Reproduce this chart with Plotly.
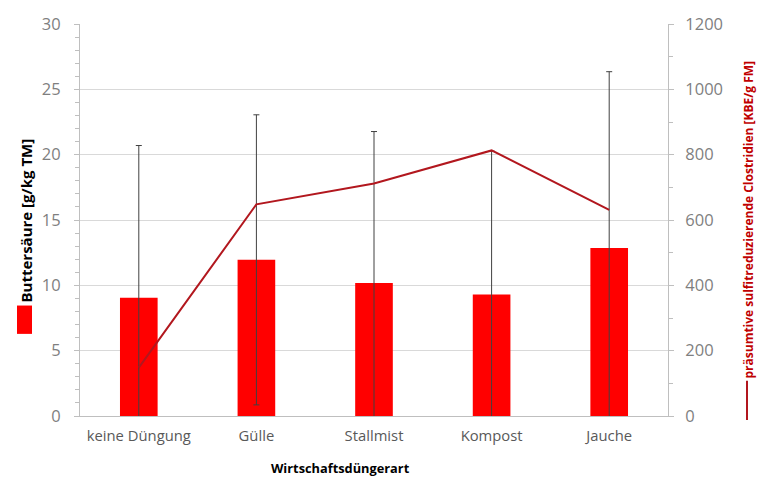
import plotly.graph_objects as go

categories = ["keine Düngung", "Gülle", "Stallmist", "Kompost", "Jauche"]
buttersaeure = [9.05, 11.95, 10.17, 9.3, 12.85]
buttersaeure_err = [11.65, 11.1, 11.6, 10.97, 13.5]
clostridien = [148, 648, 712, 813, 631]

left_ticks = [0, 5, 10, 15, 20, 25, 30]
right_ticks = [0, 200, 400, 600, 800, 1000, 1200]

FONT = "Open Sans"
GRAY = "#7F7F7F"
AXIS = "#BFBFBF"
LINE = "#B2171E"

# plot area pixel geometry (for placing legend pieces and titles)
L, R, T, B = 80, 102, 15, 73
W, H = 770, 489
PW, PH = W - L - R, H - T - B

def px(x):
    return (x - L) / PW

def py(y):
    return (H - B - y) / PH

fig = go.Figure()
fig.add_trace(go.Bar(
    x=categories, y=buttersaeure, width=0.32,
    marker=dict(color="#FF0000", line=dict(width=0)),
    error_y=dict(type="data", array=buttersaeure_err, symmetric=True,
                 color="#404040", thickness=1, width=3),
    name="Buttersäure [g/kg TM]", yaxis="y",
))
fig.add_trace(go.Scatter(
    x=categories, y=clostridien, mode="lines",
    line=dict(color=LINE, width=2),
    name="präsumtive sulfitreduzierende Clostridien [KBE/g FM]", yaxis="y2",
))

fig.update_layout(
    width=W, height=H,
    margin=dict(l=L, r=R, t=T, b=B, pad=0),
    paper_bgcolor="white", plot_bgcolor="white",
    showlegend=False,
    font=dict(family=FONT, color=GRAY),
    xaxis=dict(
        type="category", showgrid=False, showline=True, linecolor=AXIS, linewidth=1,
        ticks="", tickfont=dict(size=14.8, color="#595959", family=FONT),
        range=[-0.5, 4.5], ticklabelstandoff=6,
    ),
    yaxis=dict(
        range=[0, 30], tickvals=left_ticks, showgrid=True, gridcolor="#D9D9D9", gridwidth=1,
        showline=True, linecolor=AXIS, linewidth=1, zeroline=False,
        ticks="outside", ticklen=5, tickcolor=AXIS,
        minor=dict(dtick=1, ticks="outside", ticklen=4, tickcolor=AXIS, showgrid=False),
        tickfont=dict(size=16.5, color=GRAY, family=FONT), ticklabelstandoff=10,
    ),
    yaxis2=dict(
        range=[0, 1200], tickvals=right_ticks, overlaying="y", side="right",
        showgrid=False, showline=True, linecolor=AXIS, linewidth=1, zeroline=False,
        ticks="outside", ticklen=5, tickcolor=AXIS,
        minor=dict(dtick=100, ticks="outside", ticklen=4, tickcolor=AXIS, showgrid=False),
        tickfont=dict(size=16.5, color=GRAY, family=FONT), ticklabelstandoff=8,
    ),
    annotations=[
        dict(text="<b>Buttersäure [g/kg TM]</b>", x=px(26), y=py(216), xref="paper", yref="paper",
             textangle=-90, showarrow=False, font=dict(size=15, color="#000000", family=FONT),
             xanchor="center", yanchor="middle"),
        dict(text="<b>präsumtive sulfitreduzierende Clostridien [KBE/g FM]</b>", x=px(749), y=py(215),
             xref="paper", yref="paper", textangle=-90, showarrow=False,
             font=dict(size=12, color="#C00000", family=FONT), xanchor="center", yanchor="middle"),
        dict(text="<b>Wirtschaftsdüngerart</b>", x=px(340), y=py(469), xref="paper", yref="paper",
             showarrow=False, font=dict(size=12.8, color="#000000", family=FONT),
             xanchor="center", yanchor="middle"),
    ],
    shapes=[
        dict(type="rect", xref="paper", yref="paper", x0=px(17), x1=px(32), y0=py(332), y1=py(303),
             fillcolor="#FF0000", line=dict(width=0)),
        dict(type="line", xref="paper", yref="paper", x0=px(747), x1=px(747), y0=py(420), y1=py(380),
             line=dict(color=LINE, width=2)),
    ],
)

fig.write_html("out.html")
